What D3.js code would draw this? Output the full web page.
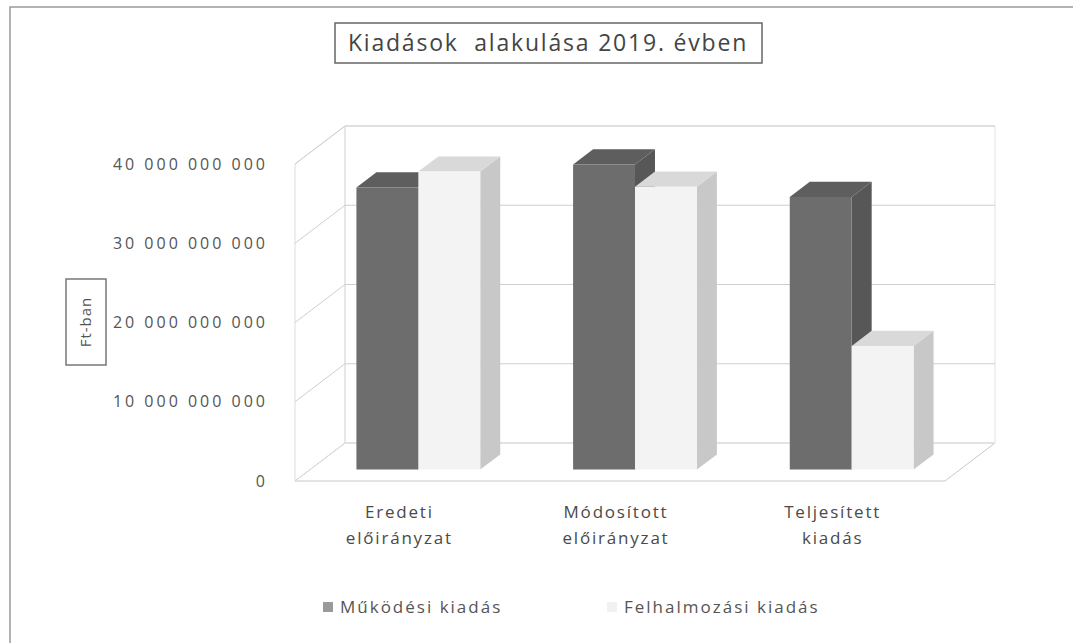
<!DOCTYPE html>
<html>
<head>
<meta charset="utf-8">
<script src="https://cdn.jsdelivr.net/npm/d3@7"></script>
<style>
  body { margin: 0; background: #fff; }
  text { font-family: "Open Sans", "Noto Sans", sans-serif; fill: #555; }
</style>
</head>
<body>
<div id="chart"></div>
<script>
// data
const categories = ["Eredeti előirányzat", "Módosított előirányzat", "Teljesített kiadás"];
const categoryLines = [["Eredeti", "előirányzat"], ["Módosított", "előirányzat"], ["Teljesített", "kiadás"]];
const seriesNames = ["Működési kiadás", "Felhalmozási kiadás"];
const mukodesi = [35.6e9, 38.5e9, 34.4e9];
const felhalmozasi = [37.6e9, 35.7e9, 15.6e9];
const yTicks = [0, 10e9, 20e9, 30e9, 40e9];

const W = 1073, H = 643;
const plot = { left: 295, right: 945, bottom: 481, top: 164 };
const depth = { dx: 50, dy: -38 };   // oblique offset of the back wall
const barD0 = 0.3, barD1 = 0.7;      // bars sit in the middle of the depth

const faces = [
  { front: "#6d6d6d", top: "#5e5e5e", side: "#575757" },
  { front: "#f3f3f3", top: "#d9d9d9", side: "#c8c8c8" }
];

const svg = d3.select("#chart").append("svg")
  .attr("width", W).attr("height", H);

// outer frame (only left and top survive in the scan)
svg.append("path")
  .attr("d", `M10,${H} L10,7 L${W},7`)
  .attr("fill", "none").attr("stroke", "#9a9a9a").attr("stroke-width", 1.5);

const x = d3.scaleBand().domain(categories).range([plot.left, plot.right]);
const y = d3.scaleLinear().domain([0, 40e9]).range([plot.bottom, plot.top]);
// Excel-like gap width 150%
const x1 = d3.scaleBand().domain(seriesNames)
  .range([0, x.bandwidth()]).paddingOuter(0.75).paddingInner(0);

const P = (px, v, d) => [px + d * depth.dx, y(v) + d * depth.dy];
const poly = pts => "M" + pts.map(p => p.join(",")).join("L") + "Z";

const walls = svg.append("g");
// floor
walls.append("path")
  .attr("d", poly([P(plot.left, 0, 0), P(plot.right, 0, 0), P(plot.right, 0, 1), P(plot.left, 0, 1)]))
  .attr("fill", "#fff").attr("stroke", "#c8c8c8");
// left wall + back wall outline
walls.append("path")
  .attr("d", poly([P(plot.left, 0, 0), P(plot.left, 40e9, 0), P(plot.left, 40e9, 1), P(plot.left, 0, 1)]))
  .attr("fill", "none").attr("stroke", "#dcdcdc");
walls.append("path")
  .attr("d", poly([P(plot.left, 0, 1), P(plot.left, 40e9, 1), P(plot.right, 40e9, 1), P(plot.right, 0, 1)]))
  .attr("fill", "none").attr("stroke", "#e2e2e2");

// gridlines on left and back walls
walls.selectAll(".grid").data(yTicks.filter(t => t > 0)).join("path")
  .attr("class", "grid")
  .attr("d", t => "M" + P(plot.left, t, 0) + "L" + P(plot.left, t, 1) + "L" + P(plot.right, t, 1))
  .attr("fill", "none").attr("stroke", "#cfcfcf");

// bars
const data = [];
categories.forEach((c, i) => {
  seriesNames.forEach((s, j) => {
    data.push({ cat: c, series: s, j, value: j === 0 ? mukodesi[i] : felhalmozasi[i] });
  });
});

const bars = svg.append("g").selectAll("g").data(data).join("g");
bars.each(function(d) {
  const g = d3.select(this);
  const x0 = x(d.cat) + x1(d.series), xr = x0 + x1.bandwidth();
  const f = faces[d.j];
  g.append("path")
    .attr("d", poly([P(xr, 0, barD0), P(xr, 0, barD1), P(xr, d.value, barD1), P(xr, d.value, barD0)]))
    .attr("fill", f.side);
  g.append("path")
    .attr("d", poly([P(x0, d.value, barD0), P(xr, d.value, barD0), P(xr, d.value, barD1), P(x0, d.value, barD1)]))
    .attr("fill", f.top);
  g.append("path")
    .attr("d", poly([P(x0, 0, barD0), P(xr, 0, barD0), P(xr, d.value, barD0), P(x0, d.value, barD0)]))
    .attr("fill", f.front);
});

// y axis labels
const fmt = d3.formatLocale({ decimal: ",", thousands: " ", grouping: [3], currency: ["", ""] }).format(",");
svg.append("g").selectAll("text").data(yTicks).join("text")
  .attr("x", 268).attr("y", t => y(t))
  .attr("dy", "0.35em").attr("text-anchor", "end")
  .attr("font-size", 16).attr("letter-spacing", 3)
  .text(t => fmt(t));

// y axis title
const yt = svg.append("g").attr("transform", "translate(86,322) rotate(-90)");
yt.append("rect").attr("x", -43).attr("y", -20).attr("width", 86).attr("height", 40)
  .attr("fill", "#fff").attr("stroke", "#777").attr("stroke-width", 1.5);
yt.append("text").attr("text-anchor", "middle").attr("dy", "0.35em")
  .attr("font-size", 15).attr("letter-spacing", 1).text("Ft-ban");

// category labels
const cl = svg.append("g").selectAll("text").data(categories).join("text")
  .attr("text-anchor", "middle").attr("font-size", 17).attr("letter-spacing", 1.8)
  .style("fill", "#4a4a4a");
cl.selectAll("tspan").data((d, i) => categoryLines[i]).join("tspan")
  .attr("x", function() { const c = d3.select(this.parentNode).datum(); return x(c) + x.bandwidth() / 2 - 4; })
  .attr("y", (d, k) => 518 + k * 26)
  .text(d => d);

// title
const tg = svg.append("g");
tg.append("rect").attr("x", 335).attr("y", 23).attr("width", 427).attr("height", 40)
  .attr("fill", "#fff").attr("stroke", "#666").attr("stroke-width", 1.5);
tg.append("text").attr("x", 548).attr("y", 43).attr("dy", "0.35em")
  .attr("text-anchor", "middle").attr("font-size", 23).attr("letter-spacing", 1.8)
  .style("fill", "#444").style("white-space", "pre")
  .text("Kiadások  alakulása 2019. évben");

// legend
const legendX = [323, 607];
const lg = svg.append("g").selectAll("g").data(seriesNames).join("g")
  .attr("transform", (d, i) => `translate(${legendX[i]},607)`);
lg.append("rect").attr("x", 0).attr("y", -5).attr("width", 10).attr("height", 10)
  .attr("fill", (d, i) => i === 0 ? "#9a9a9a" : "#f1f1f1");
lg.append("text").attr("x", 17).attr("dy", "0.35em")
  .attr("font-size", 17).attr("letter-spacing", 2).text(d => d);
</script>
</body>
</html>
